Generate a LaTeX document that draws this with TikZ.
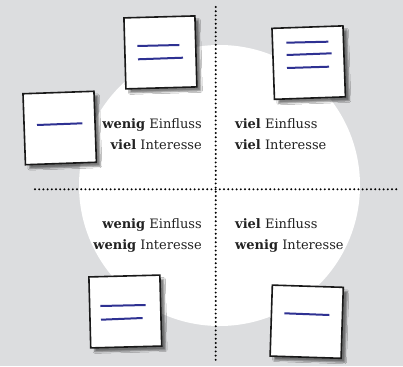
\documentclass[tikz,border=0pt]{standalone}
\usepackage{fontspec}
\setmainfont{DejaVu Serif}
\usetikzlibrary{shadows.blur,decorations.markings}
\definecolor{bg}{HTML}{DCDDDF}
\definecolor{ink}{HTML}{222222}
\definecolor{pen}{HTML}{2E3192}
\tikzset{
  card/.style={draw=black!90, fill=white, line width=1.6pt, minimum size=71pt,
    inner sep=0pt, blur shadow={shadow xshift=4pt, shadow yshift=-4pt,
    shadow blur radius=1.5pt, shadow opacity=50}},
  stroke/.style={draw=pen, line width=2pt},
  divider/.style={postaction={decorate}, decoration={markings,
    mark=between positions 0 and 1 step 4.2pt with
      {\fill[black] (0,0) circle[radius=1.1pt];}}},
  quad/.style={font=\fontsize{13}{21}\selectfont, text=ink, inner sep=0pt},
}
\begin{document}
\begin{tikzpicture}[x=1pt,y=-1pt]
  \fill[bg] (0,0) rectangle (403,366);
  \useasboundingbox (0,0) rectangle (403,366);
  % central disc
  \fill[white] (219.5,185.5) circle[radius=140.5pt];
  % dotted axes
  \coordinate (vtop) at (215.7,7);
  \coordinate (vbot) at (215.7,363);
  \coordinate (hleft) at (35,189.3);
  \coordinate (hright) at (398,189.3);
  \path[divider] (vtop) -- (vbot);
  \path[divider] (hleft) -- (hright);
  % quadrant labels
  \node[quad, align=right, anchor=east] (tl) at (202,134.5)
    {\textbf{wenig} Einfluss\\\textbf{viel} Interesse};
  \node[quad, align=left, anchor=west] (tr) at (235,134.5)
    {\textbf{viel} Einfluss\\\textbf{viel} Interesse};
  \node[quad, align=right, anchor=east] (bl) at (202,235.5)
    {\textbf{wenig} Einfluss\\\textbf{wenig} Interesse};
  \node[quad, align=left, anchor=west] (br) at (235,235.5)
    {\textbf{viel} Einfluss\\\textbf{wenig} Interesse};
  % cards
  \node[card, rotate=1.6] (c1) at (160.4,52.4) {};
  \draw[stroke] (137.3,46) -- (179.3,45);
  \draw[stroke] (138,59.3) -- (183,57.7);
  \node[card, rotate=2] (c2) at (308.7,62.6) {};
  \draw[stroke] (286.3,42.7) -- (328.3,41.7);
  \draw[stroke] (286.7,55) -- (331.7,53.3);
  \draw[stroke] (287,68) -- (329,66.7);
  \node[card, rotate=2] (c3) at (59.7,128) {};
  \draw[stroke] (37,125) -- (82.3,123.3);
  \node[card, rotate=1.5] (c4) at (125.3,311.5) {};
  \draw[stroke] (100.3,306) -- (145.7,305);
  \draw[stroke] (101,319.7) -- (142.7,318);
  \node[card, rotate=-1.8] (c5) at (306.7,321.7) {};
  \draw[stroke] (284.3,313.3) -- (329.3,315);
\end{tikzpicture}
\end{document}
